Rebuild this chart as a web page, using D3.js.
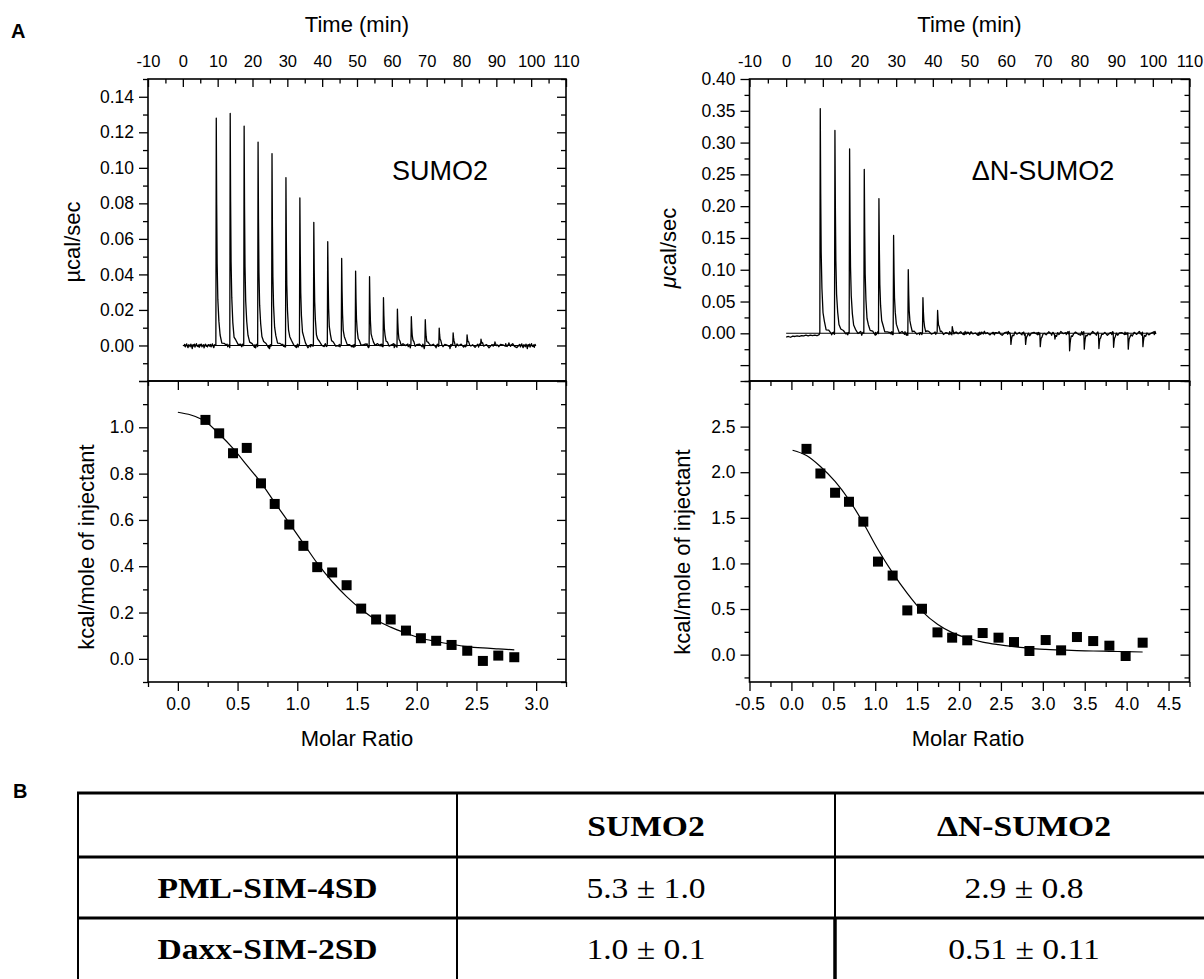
<!DOCTYPE html>
<html>
<head>
<meta charset="utf-8">
<script src="https://cdn.jsdelivr.net/npm/d3@7"></script>
<style>
  body { margin: 0; background: #fff; }
  svg { display: block; background: #fff; }
</style>
</head>
<body>
<svg id="fig" width="1204" height="979"></svg>
<script>
// ---- data ----

// tick labels
var timeTicks = [-10, 0, 10, 20, 30, 40, 50, 60, 70, 80, 90, 100, 110];
var sumoFlowTicks = [0.00, 0.02, 0.04, 0.06, 0.08, 0.10, 0.12, 0.14];
var dnFlowTicks = [0.00, 0.05, 0.10, 0.15, 0.20, 0.25, 0.30, 0.35, 0.40];
var sumoHeatTicks = [0.0, 0.2, 0.4, 0.6, 0.8, 1.0];
var dnHeatTicks = [0.0, 0.5, 1.0, 1.5, 2.0, 2.5];
var sumoRatioTicks = [0.0, 0.5, 1.0, 1.5, 2.0, 2.5, 3.0];
var dnRatioTicks = [-0.5, 0.0, 0.5, 1.0, 1.5, 2.0, 2.5, 3.0, 3.5, 4.0, 4.5];

// raw thermograms: injection times (min) and peak heights (ucal/sec)
var sumoInjTimes = [9.6, 13.6, 17.6, 21.6, 25.6, 29.6, 33.6, 37.6, 41.6, 45.6, 49.6,
                    53.6, 57.6, 61.6, 65.6, 69.6, 73.6, 77.6, 81.6, 85.6, 89.6, 93.6];
var sumoPeaks = [0.128, 0.1306, 0.1235, 0.1145, 0.108, 0.0945, 0.083, 0.0693, 0.0584, 0.049, 0.0419,
                 0.0387, 0.0269, 0.0205, 0.0162, 0.0145, 0.0098, 0.0071, 0.006, 0.0036, 0.002, 0.0015];
var dnInjTimes = [9.3, 13.3, 17.3, 21.3, 25.3, 29.3, 33.3, 37.3, 41.3, 45.3, 49.3, 53.3,
                  57.3, 61.3, 65.3, 69.3, 73.3, 77.3, 81.3, 85.3, 89.3, 93.3, 97.3];
var dnPeaks = [0.3535, 0.319, 0.290, 0.258, 0.212, 0.154, 0.100, 0.056, 0.036, 0.0105, 0.002, 0.002,
               0.001, -0.0175, -0.0175, -0.021, -0.009, -0.0275, -0.025, -0.024, -0.022, -0.025, -0.021];

// shape of one injection peak: [min after injection, fraction of peak height]
var peakShape = [[-0.12, 0], [0, 1], [0.12, 0.62], [0.25, 0.36], [0.45, 0.2], [0.75, 0.1],
                 [1.1, 0.05], [1.6, 0.02], [2.3, 0.006], [3.0, 0]];

// baseline noise (ucal/sec)
var sumoWiggle = [0.0003, -0.0004, 0.0006, -0.0008, 0.0002, 0.0009, -0.0005, -0.0012, 0.0004, 0.0001,
                  -0.0007, 0.0008, -0.0002, -0.0018, 0.0005, -0.0003, 0.0007, -0.0009, 0.0002, 0.0010,
                  -0.0004, -0.0006, 0.0003, -0.0011, 0.0006, -0.0002, 0.0008, -0.0007, -0.0001, 0.0004,
                  -0.0013, 0.0002, 0.0007, -0.0005, 0.0001, -0.0008, 0.0005];
var dnWiggle = [0.001, -0.002, 0.0025, -0.001, 0.0005, -0.003, 0.002, -0.0015, 0.003, -0.0005,
                0.001, -0.0025, 0.0015, -0.002, 0.0005, 0.0025, -0.001, -0.003, 0.001, 0.002,
                -0.0015, 0.0005, -0.002, 0.003, -0.001, 0.0015, -0.0025, 0.001, -0.0005, 0.002,
                -0.003, 0.0005, 0.0015, -0.001, 0.0025, -0.002, 0.001];
// dN-SUMO2 baseline before the first injection: [min, ucal/sec]
var dnPreBase = [[0, -0.006], [0.6, -0.005], [1.2, -0.0062], [1.8, -0.0045], [2.4, -0.005], [3, -0.004],
                 [3.6, -0.0048], [4.2, -0.0035], [4.8, -0.0042], [5.4, -0.003], [6, -0.004], [6.6, -0.0028],
                 [7.2, -0.0035], [7.8, -0.003], [8.4, -0.0038], [9, -0.002]];
var sumoTraceSpan = [0.3, 101.4];
var dnTraceSpan = [0, 100.9];

// integrated heats
var sumoRatio = [0.231, 0.346, 0.462, 0.577, 0.696, 0.811, 0.933, 1.051, 1.167, 1.292, 1.413,
                 1.535, 1.660, 1.782, 1.910, 2.035, 2.163, 2.292, 2.423, 2.554, 2.683, 2.817];
var sumoHeat = [1.032, 0.974, 0.888, 0.911, 0.758, 0.669, 0.580, 0.488, 0.396, 0.373, 0.318,
                0.217, 0.170, 0.170, 0.122, 0.089, 0.078, 0.060, 0.035, -0.009, 0.014, 0.007];
var sumoFitX = [0.0, 0.109, 0.231, 0.346, 0.462, 0.577, 0.696, 0.811, 0.933, 1.051, 1.167, 1.292,
                1.413, 1.535, 1.660, 1.782, 1.910, 2.035, 2.163, 2.292, 2.423, 2.554, 2.683, 2.817];
var sumoFitY = [1.065, 1.053, 1.025, 0.971, 0.909, 0.837, 0.761, 0.675, 0.586, 0.499, 0.413, 0.334,
                0.269, 0.214, 0.168, 0.137, 0.111, 0.089, 0.075, 0.063, 0.053, 0.047, 0.043, 0.039];

var dnRatio = [0.180, 0.346, 0.521, 0.687, 0.858, 1.033, 1.208, 1.383, 1.558, 1.743, 1.918, 2.098,
               2.282, 2.471, 2.656, 2.840, 3.034, 3.218, 3.407, 3.601, 3.794, 3.988, 4.191];
var dnHeat = [2.256, 1.986, 1.775, 1.676, 1.458, 1.020, 0.867, 0.485, 0.503, 0.244, 0.186, 0.157,
              0.237, 0.186, 0.138, 0.040, 0.160, 0.047, 0.193, 0.149, 0.098, -0.015, 0.131];
var dnFitX = [0.014, 0.180, 0.346, 0.521, 0.687, 0.858, 1.033, 1.208, 1.383, 1.558, 1.743, 1.918,
              2.098, 2.282, 2.471, 2.656, 2.840, 3.034, 3.218, 3.407, 3.601, 3.794, 3.988, 4.191];
var dnFitY = [2.241, 2.183, 2.063, 1.899, 1.698, 1.443, 1.152, 0.896, 0.671, 0.477, 0.332, 0.241,
              0.182, 0.138, 0.109, 0.087, 0.069, 0.058, 0.051, 0.044, 0.040, 0.036, 0.033, 0.029];

// table B
var tableHeader = ["", "SUMO2", "\u0394N-SUMO2"];
var tableRowNames = ["PML-SIM-4SD", "Daxx-SIM-2SD"];
var tableSumo2 = ["5.3 \u00b1 1.0", "1.0 \u00b1 0.1"];
var tableDnSumo2 = ["2.9 \u00b1 0.8", "0.51 \u00b1 0.11"];

// ---- drawing ----
var SANS = '"Liberation Sans", Arial, Helvetica, sans-serif';
var SERIF = '"Liberation Serif", "Times New Roman", Times, serif';
var svg = d3.select("#fig");

var rowTop = 79, rowMid = 381, rowBottom = 682;
var colLeft = { x0: 148, x1: 566 };
var colRight = { x0: 749.5, x1: 1189.5 };

function ticksBetween(lo, hi, step) {
    var out = [];
    for (var k = Math.ceil(lo / step - 1e-9); k <= Math.floor(hi / step + 1e-9); k++) {
        out.push(Math.round(k * step * 1e6) / 1e6);
    }
    return out;
}

function labeller(list, dec) {
    return function (d) {
        return list.some(v => Math.abs(v - d) < 1e-9) ? d.toFixed(dec) : "";
    };
}

// one set of ticks on one side
function addTicks(axisFn, scale, values, size, fmt, pad, transform, fontSize) {
    var a = axisFn(scale).tickValues(values).tickSizeInner(size).tickSizeOuter(0)
        .tickPadding(pad || 0).tickFormat(fmt || (() => ""));
    var g = svg.append("g").attr("transform", transform).call(a);
    g.select(".domain").remove();
    g.attr("font-family", SANS).attr("font-size", fontSize || 17.5);
    g.selectAll("line").attr("stroke", "#000").attr("stroke-width", 1.3);
    g.selectAll("text").attr("fill", "#000");
    return g;
}

function frame(x, y) {
    svg.append("rect")
        .attr("x", x.range()[0]).attr("y", y.range()[1])
        .attr("width", x.range()[1] - x.range()[0])
        .attr("height", y.range()[0] - y.range()[1])
        .attr("fill", "none").attr("stroke", "#000").attr("stroke-width", 1.6);
}

function buildTrace(inj, peaks, wiggle, span, pre) {
    var pts = pre ? pre.map(p => ({ t: p[0], v: p[1] })) : [];
    var preEnd = pre ? pre[pre.length - 1][0] : -Infinity;
    var lo = peakShape[0][0], hi = peakShape[peakShape.length - 1][0];
    var i = 0;
    for (var t = span[0]; t <= span[1] + 1e-9; t = Math.round((t + 0.2) * 1000) / 1000) {
        i++;
        if (t <= preEnd) continue;
        var inside = inj.some(s => t >= s + lo && t <= s + hi);
        if (!inside) pts.push({ t: t, v: wiggle[i % wiggle.length] });
    }
    inj.forEach(function (s, k) {
        peakShape.forEach(function (p, j) {
            var w = p[1] < 0.25 ? wiggle[(k * 7 + j) % wiggle.length] : 0;
            pts.push({ t: s + p[0], v: peaks[k] * p[1] + w });
        });
    });
    pts.sort((a, b) => a.t - b.t);
    return pts;
}

function drawThermogram(col, yDomain, yMajor, yMinor, yLabels, yDec, inj, peaks, wiggle, span, pre) {
    var x = d3.scaleLinear().domain([-10, 110]).range([col.x0, col.x1]);
    var y = d3.scaleLinear().domain(yDomain).range([rowMid, rowTop]);

    var minorT = ticksBetween(-10, 110, 5).filter(d => d % 10 !== 0);
    addTicks(d3.axisTop, x, minorT, -4.5, null, 0, `translate(0,${rowTop})`);
    addTicks(d3.axisTop, x, timeTicks, -8, d => String(d), 12, `translate(0,${rowTop})`, 16.5);

    var majors = ticksBetween(yDomain[0], yDomain[1], yMajor);
    var minors = ticksBetween(yDomain[0], yDomain[1], yMinor)
        .filter(d => !majors.some(m => Math.abs(m - d) < 1e-9));
    addTicks(d3.axisLeft, y, minors, 5, null, 0, `translate(${col.x0},0)`);
    addTicks(d3.axisLeft, y, majors, 9, labeller(yLabels, yDec), 5, `translate(${col.x0},0)`);
    addTicks(d3.axisRight, y, minors, -5, null, 0, `translate(${col.x1},0)`);
    addTicks(d3.axisRight, y, majors, -9, null, 0, `translate(${col.x1},0)`);

    // zero reference line
    svg.append("line")
        .attr("x1", x(0)).attr("x2", x(span[1]))
        .attr("y1", y(0)).attr("y2", y(0))
        .attr("stroke", "#000").attr("stroke-width", 1.1);

    var trace = buildTrace(inj, peaks, wiggle, span, pre);
    svg.append("path")
        .datum(trace)
        .attr("fill", "none").attr("stroke", "#000").attr("stroke-width", 1.3)
        .attr("stroke-linejoin", "round")
        .attr("d", d3.line().x(d => x(d.t)).y(d => y(d.v)));

    frame(x, y);
}

function drawHeats(col, xDomain, xLabels, yDomain, yMajor, yMinor, yLabels, ratio, heat, fitX, fitY) {
    var x = d3.scaleLinear().domain(xDomain).range([col.x0, col.x1]);
    var y = d3.scaleLinear().domain(yDomain).range([rowBottom, rowMid]);

    var xMaj = ticksBetween(xDomain[0], xDomain[1], 0.5);
    var xMin = ticksBetween(xDomain[0], xDomain[1], 0.25)
        .filter(d => !xMaj.some(m => Math.abs(m - d) < 1e-9));
    addTicks(d3.axisBottom, x, xMin, 5, null, 0, `translate(0,${rowBottom})`);
    addTicks(d3.axisBottom, x, xMaj, 9, labeller(xLabels, 1), 7, `translate(0,${rowBottom})`);
    addTicks(d3.axisTop, x, xMin, -5, null, 0, `translate(0,${rowMid})`);
    addTicks(d3.axisTop, x, xMaj, -9, null, 0, `translate(0,${rowMid})`);

    var yMaj = ticksBetween(yDomain[0], yDomain[1], yMajor);
    var yMin = ticksBetween(yDomain[0], yDomain[1], yMinor)
        .filter(d => !yMaj.some(m => Math.abs(m - d) < 1e-9));
    addTicks(d3.axisLeft, y, yMin, 5, null, 0, `translate(${col.x0},0)`);
    addTicks(d3.axisLeft, y, yMaj, 9, labeller(yLabels, 1), 5, `translate(${col.x0},0)`);
    addTicks(d3.axisRight, y, yMin, -5, null, 0, `translate(${col.x1},0)`);
    addTicks(d3.axisRight, y, yMaj, -9, null, 0, `translate(${col.x1},0)`);

    var fit = fitX.map((v, i) => ({ x: v, y: fitY[i] }));
    svg.append("path")
        .datum(fit)
        .attr("fill", "none").attr("stroke", "#000").attr("stroke-width", 1.2)
        .attr("d", d3.line().curve(d3.curveMonotoneX).x(d => x(d.x)).y(d => y(d.y)));

    var pts = ratio.map((v, i) => ({ x: v, y: heat[i] }));
    svg.append("g").selectAll("rect")
        .data(pts)
        .enter().append("rect")
        .attr("x", d => x(d.x) - 5)
        .attr("y", d => y(d.y) - 5)
        .attr("width", 10).attr("height", 10)
        .attr("fill", "#000");

    frame(x, y);
}

function label(txt, x, y, size, opts) {
    opts = opts || {};
    var t = svg.append("text")
        .attr("x", x).attr("y", y)
        .attr("font-family", opts.family || SANS)
        .attr("font-size", size)
        .attr("font-weight", opts.weight || "normal")
        .attr("text-anchor", opts.anchor || "middle")
        .attr("fill", "#000");
    if (opts.rotate) t.attr("transform", `rotate(-90,${x},${y})`);
    t.text(txt);
    return t;
}

// panel A, SUMO2
drawThermogram(colLeft, [-0.02, 0.15], 0.02, 0.01, sumoFlowTicks, 2,
    sumoInjTimes, sumoPeaks, sumoWiggle, sumoTraceSpan, null);
drawHeats(colLeft, [-0.25, 3.25], sumoRatioTicks, [-0.1, 1.2], 0.2, 0.1, sumoHeatTicks,
    sumoRatio, sumoHeat, sumoFitX, sumoFitY);

// panel A, dN-SUMO2
drawThermogram(colRight, [-0.075, 0.40], 0.05, 0.025, dnFlowTicks, 2,
    dnInjTimes, dnPeaks, dnWiggle, dnTraceSpan, dnPreBase);
drawHeats(colRight, [-0.5, 4.75], dnRatioTicks, [-0.3, 3.0], 0.5, 0.25, dnHeatTicks,
    dnRatio, dnHeat, dnFitX, dnFitY);

// titles and labels
label("A", 11, 38, 20, { weight: "bold", anchor: "start" });
label("Time (min)", 357, 32, 22);
label("Time (min)", 969.5, 32, 22);
label("SUMO2", 440, 180, 27);
label("\u0394N-SUMO2", 1043, 180, 27);
label("\u00b5cal/sec", 80, 242, 22, { rotate: true });
var mu = svg.append("text")
    .attr("x", 676).attr("y", 248)
    .attr("transform", "rotate(-90,676,248)")
    .attr("font-family", SANS).attr("font-size", 22)
    .attr("text-anchor", "middle").attr("fill", "#000");
mu.append("tspan").attr("font-style", "italic").text("\u03bc");
mu.append("tspan").text("cal/sec");
label("kcal/mole of injectant", 94, 547, 22, { rotate: true });
label("kcal/mole of injectant", 690, 552, 22, { rotate: true });
label("Molar Ratio", 357, 746, 22);
label("Molar Ratio", 968, 746, 22);

// panel B, table
label("B", 13, 798, 20, { weight: "bold", anchor: "start" });
var colEdges = [78, 457, 835, 1213];
var rowEdges = [793, 857, 918, 979];
var tbl = svg.append("g");
tbl.selectAll("line.h").data(rowEdges.slice(0, 3)).enter().append("line")
    .attr("x1", colEdges[0] - 1).attr("x2", colEdges[3])
    .attr("y1", d => d).attr("y2", d => d)
    .attr("stroke", "#000").attr("stroke-width", 3);
tbl.selectAll("line.v").data(colEdges).enter().append("line")
    .attr("x1", d => d).attr("x2", d => d)
    .attr("y1", rowEdges[0]).attr("y2", rowEdges[3] + 5)
    .attr("stroke", "#000").attr("stroke-width", 2);
// the last divider is heavier in the bottom row
tbl.append("line")
    .attr("x1", colEdges[2]).attr("x2", colEdges[2])
    .attr("y1", rowEdges[2]).attr("y2", rowEdges[3] + 5)
    .attr("stroke", "#000").attr("stroke-width", 3.5);

var cellText = [];
tableHeader.forEach((h, c) => cellText.push({ r: 0, c: c, t: h, bold: true }));
tableRowNames.forEach((n, r) => {
    cellText.push({ r: r + 1, c: 0, t: n, bold: true });
    cellText.push({ r: r + 1, c: 1, t: tableSumo2[r], bold: false });
    cellText.push({ r: r + 1, c: 2, t: tableDnSumo2[r], bold: false });
});
tbl.selectAll("text").data(cellText).enter().append("text")
    .attr("transform", d => `translate(${(colEdges[d.c] + colEdges[d.c + 1]) / 2},${(rowEdges[d.r] + rowEdges[d.r + 1]) / 2 + 10.5}) scale(1.12,1)`)
    .attr("text-anchor", "middle")
    .attr("font-family", SERIF)
    .attr("font-size", 30)
    .attr("font-weight", d => d.bold ? "bold" : "normal")
    .attr("fill", "#000")
    .text(d => d.t);
</script>
</body>
</html>
